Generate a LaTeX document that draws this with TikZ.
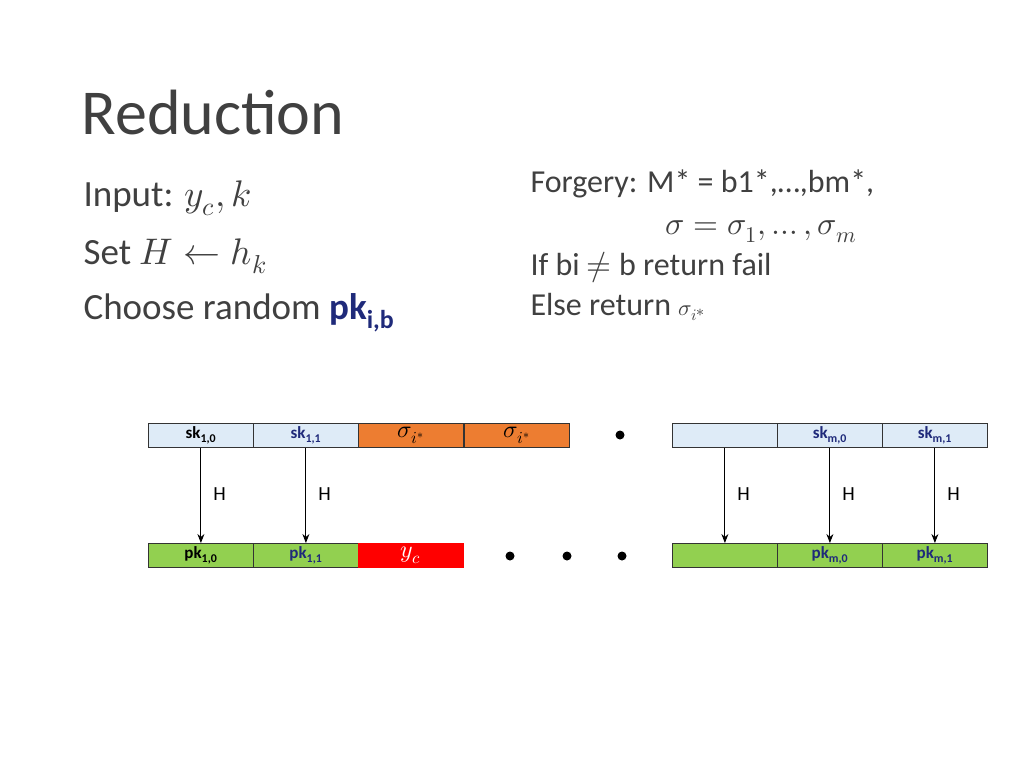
\documentclass[tikz,border=0pt]{standalone}
\usepackage{unicode-math}
\setmainfont{Carlito}
\setmathfont{Latin Modern Math}
\usetikzlibrary{arrows.meta}
\definecolor{skb}{HTML}{DEEBF7}
\definecolor{org}{HTML}{ED7D31}
\definecolor{grn}{HTML}{92D050}
\definecolor{dblue}{HTML}{1F2A7A}
\definecolor{txt}{HTML}{404040}
\begin{document}
\begin{tikzpicture}[x=1pt,y=-1pt,
 cell/.style={draw=black!80,line width=0.8pt,minimum width=105pt,minimum height=24pt,inner sep=0pt,anchor=north west,font=\fontsize{17}{17}\selectfont\bfseries},
 arr/.style={-{Stealth[length=9pt,width=7pt]},line width=0.9pt},
 hl/.style={font=\fontsize{20}{20}\selectfont},
 dot/.style={circle,fill=black,inner sep=0pt,minimum size=9pt}]
\useasboundingbox (0,0) rectangle (1024,768);
\node[anchor=west,font=\fontsize{64}{64}\selectfont,text=txt] (title) at (78,113) {Reduction};
\begin{scope}[every node/.style={anchor=west,font=\fontsize{37}{37}\selectfont,text=txt}]
\node (l1) at (80,198) {Input: $y_c,k$};
\node (l2) at (80,256) {Set $H\leftarrow h_k$};
\node (l3) at (80,313) {Choose random \textcolor{dblue}{\textbf{pk\textsubscript{i,b}}}};
\end{scope}
\begin{scope}[every node/.style={anchor=west,font=\fontsize{32}{32}\selectfont,text=txt}]
\node (r1) at (527,184) {Forgery: M* = b1*,…,bm*,};
\node (r2) at (662,232) {$\sigma=\sigma_1,\ldots,\sigma_m$};
\node (r3) at (527,267) {If bi $\neq$ b return fail};
\node (r4) at (527,307) {Else return $\scriptstyle\sigma_{i^*}$};
\end{scope}
% top row
\node[cell,fill=skb] (s10) at (148,423) {sk\textsubscript{1,0}};
\node[cell,fill=skb,text=dblue] (s11) at (253,423) {sk\textsubscript{1,1}};
\node[cell,fill=org,font=\fontsize{24}{24}\selectfont] (o1) at (358,423) {$\sigma_{i^*}$};
\node[cell,fill=org,font=\fontsize{24}{24}\selectfont] (o2) at (464,423) {$\sigma_{i^*}$};
\node[dot] (d0) at (620,435) {};
\node[cell,fill=skb] (sa) at (672,423) {\phantom{x}};
\node[cell,fill=skb,text=dblue] (sm0) at (777,423) {sk\textsubscript{m,0}};
\node[cell,fill=skb,text=dblue] (sm1) at (882,423) {sk\textsubscript{m,1}};
% bottom row
\node[cell,fill=grn] (p10) at (148,543) {pk\textsubscript{1,0}};
\node[cell,fill=grn,text=dblue] (p11) at (253,543) {pk\textsubscript{1,1}};
\node[cell,fill=red,draw=red,text=white,font=\fontsize{24}{24}\selectfont] (yc) at (358,543) {$y_c$};
\node[dot] (d1) at (510,556) {};
\node[dot] (d2) at (567,556) {};
\node[dot] (d3) at (622,556) {};
\node[cell,fill=grn] (pa) at (672,543) {\phantom{x}};
\node[cell,fill=grn,text=dblue] (pm0) at (777,543) {pk\textsubscript{m,0}};
\node[cell,fill=grn,text=dblue] (pm1) at (882,543) {pk\textsubscript{m,1}};
% arrows
\foreach \a/\b in {s10/p10,s11/p11,sa/pa,sm0/pm0,sm1/pm1}{
 \draw[arr] (\a.south) -- (\b.north);
 \path (\a.south) -- ++(0,46) node[hl,anchor=west,xshift=9pt] {H};
}
\end{tikzpicture}
\end{document}
